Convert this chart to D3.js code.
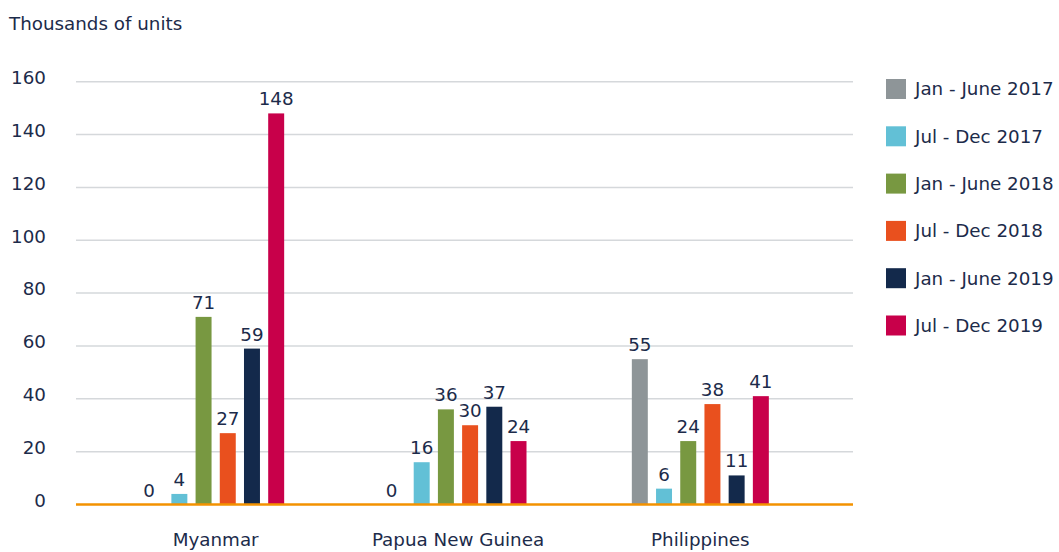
<!DOCTYPE html>
<html><head><meta charset="utf-8">
<script src="https://cdn.jsdelivr.net/npm/d3@7"></script>
<style>body{margin:0;background:#fff;} text{font-family:"DejaVu Sans", "Open Sans", sans-serif;}</style>
</head><body>
<svg id="c" width="1059" height="552"></svg>
<script>
const categories = ["Myanmar", "Papua New Guinea", "Philippines"];
const seriesNames = ["Jan - June 2017", "Jul - Dec 2017", "Jan - June 2018", "Jul - Dec 2018", "Jan - June 2019", "Jul - Dec 2019"];
const seriesColors = ["#8e9598", "#62c0d6", "#789841", "#e9501e", "#13294b", "#c8004a"];
const janJun2017 = [0, 0, 55];
const julDec2017 = [4, 16, 6];
const janJun2018 = [71, 36, 24];
const julDec2018 = [27, 30, 38];
const janJun2019 = [59, 37, 11];
const julDec2019 = [148, 24, 41];
const yTicks = [0, 20, 40, 60, 80, 100, 120, 140, 160];
const yTitle = "Thousands of units";

const series = [janJun2017, julDec2017, janJun2018, julDec2018, janJun2019, julDec2019];
const textColor = "#1c2b4a";
const fs = "18.3px";
const svg = d3.select("#c");

const y = d3.scaleLinear().domain([0, 160]).range([504.5, 81.7]);
const x0 = d3.scaleBand().domain(categories).range([94.5, 821.5]);
const x1 = d3.scaleBand().domain(d3.range(6)).range([-68.5, 68.5]).paddingInner(0.34);

// gridlines
svg.append("g").selectAll("line").data(yTicks.filter(d => d > 0)).join("line")
  .attr("x1", 76).attr("x2", 853)
  .attr("y1", d => y(d)).attr("y2", d => y(d))
  .attr("stroke", "#d5d8db").attr("stroke-width", 1.5);

// y axis labels
const yAxis = d3.axisLeft(y).tickValues(yTicks).tickSize(0).tickPadding(0);
const ya = svg.append("g").attr("transform", "translate(46,0)").call(yAxis);
ya.select(".domain").remove();
ya.selectAll("text").attr("fill", textColor).style("font-size", fs).attr("dy", "0.1em");

// title
svg.append("text").attr("x", 9).attr("y", 30).text(yTitle)
  .attr("fill", textColor).style("font-size", fs);

// bars
const groups = svg.append("g").selectAll("g").data(categories).join("g")
  .attr("transform", d => `translate(${x0(d) + x0.bandwidth() / 2},0)`);

groups.selectAll("rect").data((c, ci) => series.map((s, si) => ({si, v: s[ci]}))).join("rect")
  .attr("x", d => x1(d.si)).attr("width", x1.bandwidth())
  .attr("y", d => y(d.v)).attr("height", d => y(0) - y(d.v))
  .attr("fill", d => seriesColors[d.si]);

groups.selectAll("text.val").data((c, ci) => series.map((s, si) => ({si, v: s[ci]}))).join("text")
  .attr("class", "val")
  .attr("x", d => x1(d.si) + x1.bandwidth() / 2 - (d.v === 0 ? 6 : 0))
  .attr("y", d => y(d.v) - 8)
  .attr("text-anchor", "middle")
  .attr("fill", textColor).style("font-size", fs)
  .text(d => d.v);

// baseline
svg.append("line").attr("x1", 76).attr("x2", 853).attr("y1", y(0)).attr("y2", y(0))
  .attr("stroke", "#f39200").attr("stroke-width", 2.5);

// x axis labels
const xAxis = d3.axisBottom(x0).tickSize(0).tickPadding(0);
const xa = svg.append("g").attr("transform", "translate(0,542)").call(xAxis);
xa.select(".domain").remove();
xa.selectAll("text").attr("fill", textColor).style("font-size", fs).attr("dy", "0.2em");

// legend
const lg = svg.append("g").selectAll("g").data(seriesNames).join("g")
  .attr("transform", (d, i) => `translate(886,${79 + i * 47.3})`);
lg.append("rect").attr("width", 20).attr("height", 20).attr("fill", (d, i) => seriesColors[i]);
lg.append("text").attr("x", 29).attr("y", 10).attr("dy", "0.35em")
  .attr("fill", textColor).style("font-size", fs).text(d => d);
</script>
</body></html>
